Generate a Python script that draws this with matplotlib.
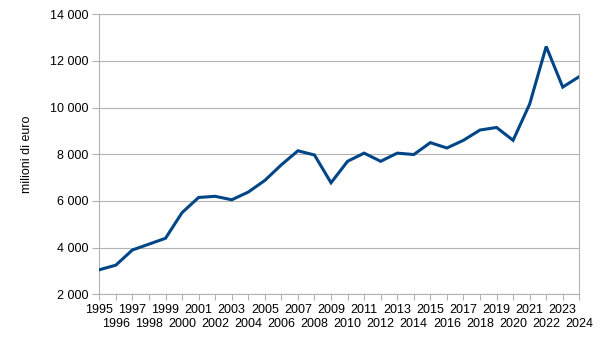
import matplotlib
matplotlib.use("Agg")
import matplotlib.pyplot as plt
from matplotlib.ticker import FuncFormatter, MultipleLocator, FixedLocator, FixedFormatter

years = list(range(1995, 2025))
values = [3050, 3250, 3900, 4150, 4400, 5500, 6150, 6200, 6050, 6380,
          6880, 7550, 8150, 7970, 6780, 7700, 8050, 7700, 8050, 7990,
          8500, 8270, 8600, 9040, 9150, 8600, 10150, 12620, 10880, 11330]
y_label = "milioni di euro"

plt.rcParams['font.family'] = ['Liberation Sans', 'DejaVu Sans']

fig = plt.figure(figsize=(6.06, 3.41), dpi=100)
ax = fig.add_axes([99.3/606, 1 - 294.3/341, 480/606, 280/341])

ax.plot(years, values, color='#004586', linewidth=2.2, solid_joinstyle='miter', zorder=3)

ax.set_xlim(years[0], years[-1])
ax.set_ylim(2000, 14000)
ax.yaxis.set_major_locator(MultipleLocator(2000))
ax.yaxis.set_major_formatter(FuncFormatter(lambda v, p: f"{int(v):,}".replace(",", " ")))

top_row = years[0::2]
bottom_row = years[1::2]
ax.xaxis.set_major_locator(FixedLocator(top_row))
ax.xaxis.set_major_formatter(FixedFormatter([str(y) for y in top_row]))
ax.xaxis.set_minor_locator(FixedLocator(bottom_row))
ax.xaxis.set_minor_formatter(FixedFormatter([str(y) for y in bottom_row]))

ax.grid(axis='y', color='#b3b3b3', linewidth=0.8, zorder=0)
for s in ax.spines.values():
    s.set_color('#b3b3b3')
    s.set_linewidth(0.8)

ax.tick_params(axis='both', which='both', colors='#b3b3b3', labelcolor='black', labelsize=9, width=0.8)
ax.tick_params(axis='y', length=5, pad=3)
ax.tick_params(axis='x', which='major', length=4, pad=3)
ax.tick_params(axis='x', which='minor', length=4, pad=13)

ax.set_ylabel(y_label, fontsize=9)
ax.yaxis.set_label_coords(-0.138, 0.5)

fig.savefig("out.png", dpi=100)
